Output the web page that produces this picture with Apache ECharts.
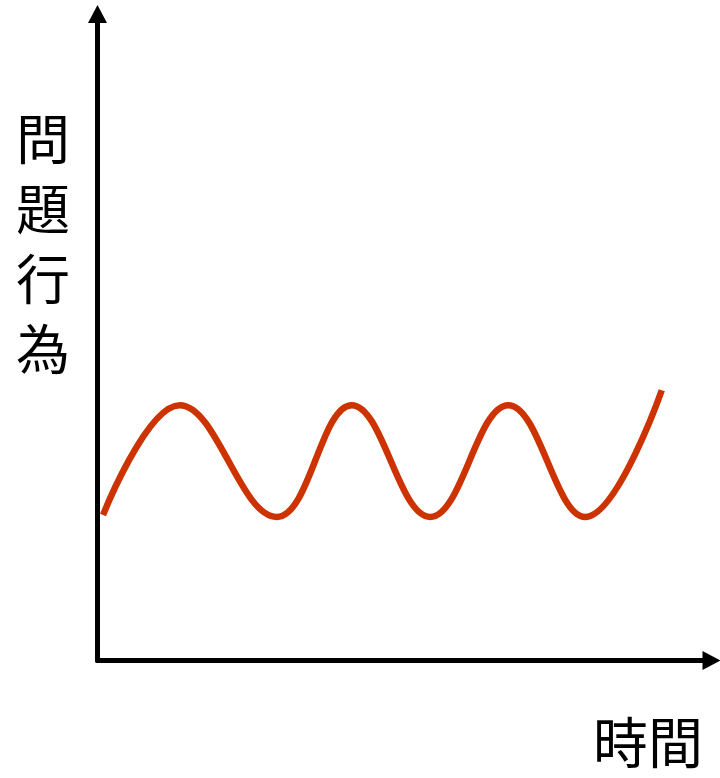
<!DOCTYPE html>
<html>
<head>
<meta charset="utf-8">
<script src="https://cdn.jsdelivr.net/npm/echarts@6/dist/echarts.min.js"></script>
<style>html,body{margin:0;padding:0;background:#fff}#c{width:720px;height:778px}</style>
</head>
<body>
<div id="c"></div>
<script>
// Data (x: time 0-100, y: problem behaviour 0-100)
const timeValues = [0.9, 13.4, 29.2, 41.4, 54.2, 66.9, 79.4, 91.9];
const behaviourValues = [22.5, 39.5, 22.2, 39.5, 22.2, 39.5, 22.2, 41.8];
const yLabel = '問\n題\n行\n為';
const xLabel = '時間';

const chart = echarts.init(document.getElementById('c'));
const points = timeValues.map((t, i) => [t, behaviourValues[i]]);
const axisCommon = {
  type: 'value', min: 0, max: 100,
  axisLine: { show: true, symbol: ['none', 'triangle'], symbolSize: [19, 18], lineStyle: { color: '#000', width: 5 } },
  axisTick: { show: false }, axisLabel: { show: false }, splitLine: { show: false }
};
chart.setOption({
  animation: false,
  grid: { left: 97.5, right: 8.5, top: 14, bottom: 117.5 },
  xAxis: Object.assign({}, axisCommon),
  yAxis: Object.assign({}, axisCommon),
  series: [{
    type: 'line', data: points, smooth: 0.4, symbol: 'none',
    lineStyle: { color: '#CC3300', width: 6.5 }
  }],
  graphic: [
    { type: 'text', left: 16, top: 104, style: { text: yLabel, font: '54px "Noto Sans CJK TC"', lineHeight: 70, fill: '#000', align: 'center' } },
    { type: 'text', left: 593, top: 715, style: { text: xLabel, font: '55px "Noto Sans CJK TC"', fill: '#000' } }
  ]
});
</script>
</body>
</html>
